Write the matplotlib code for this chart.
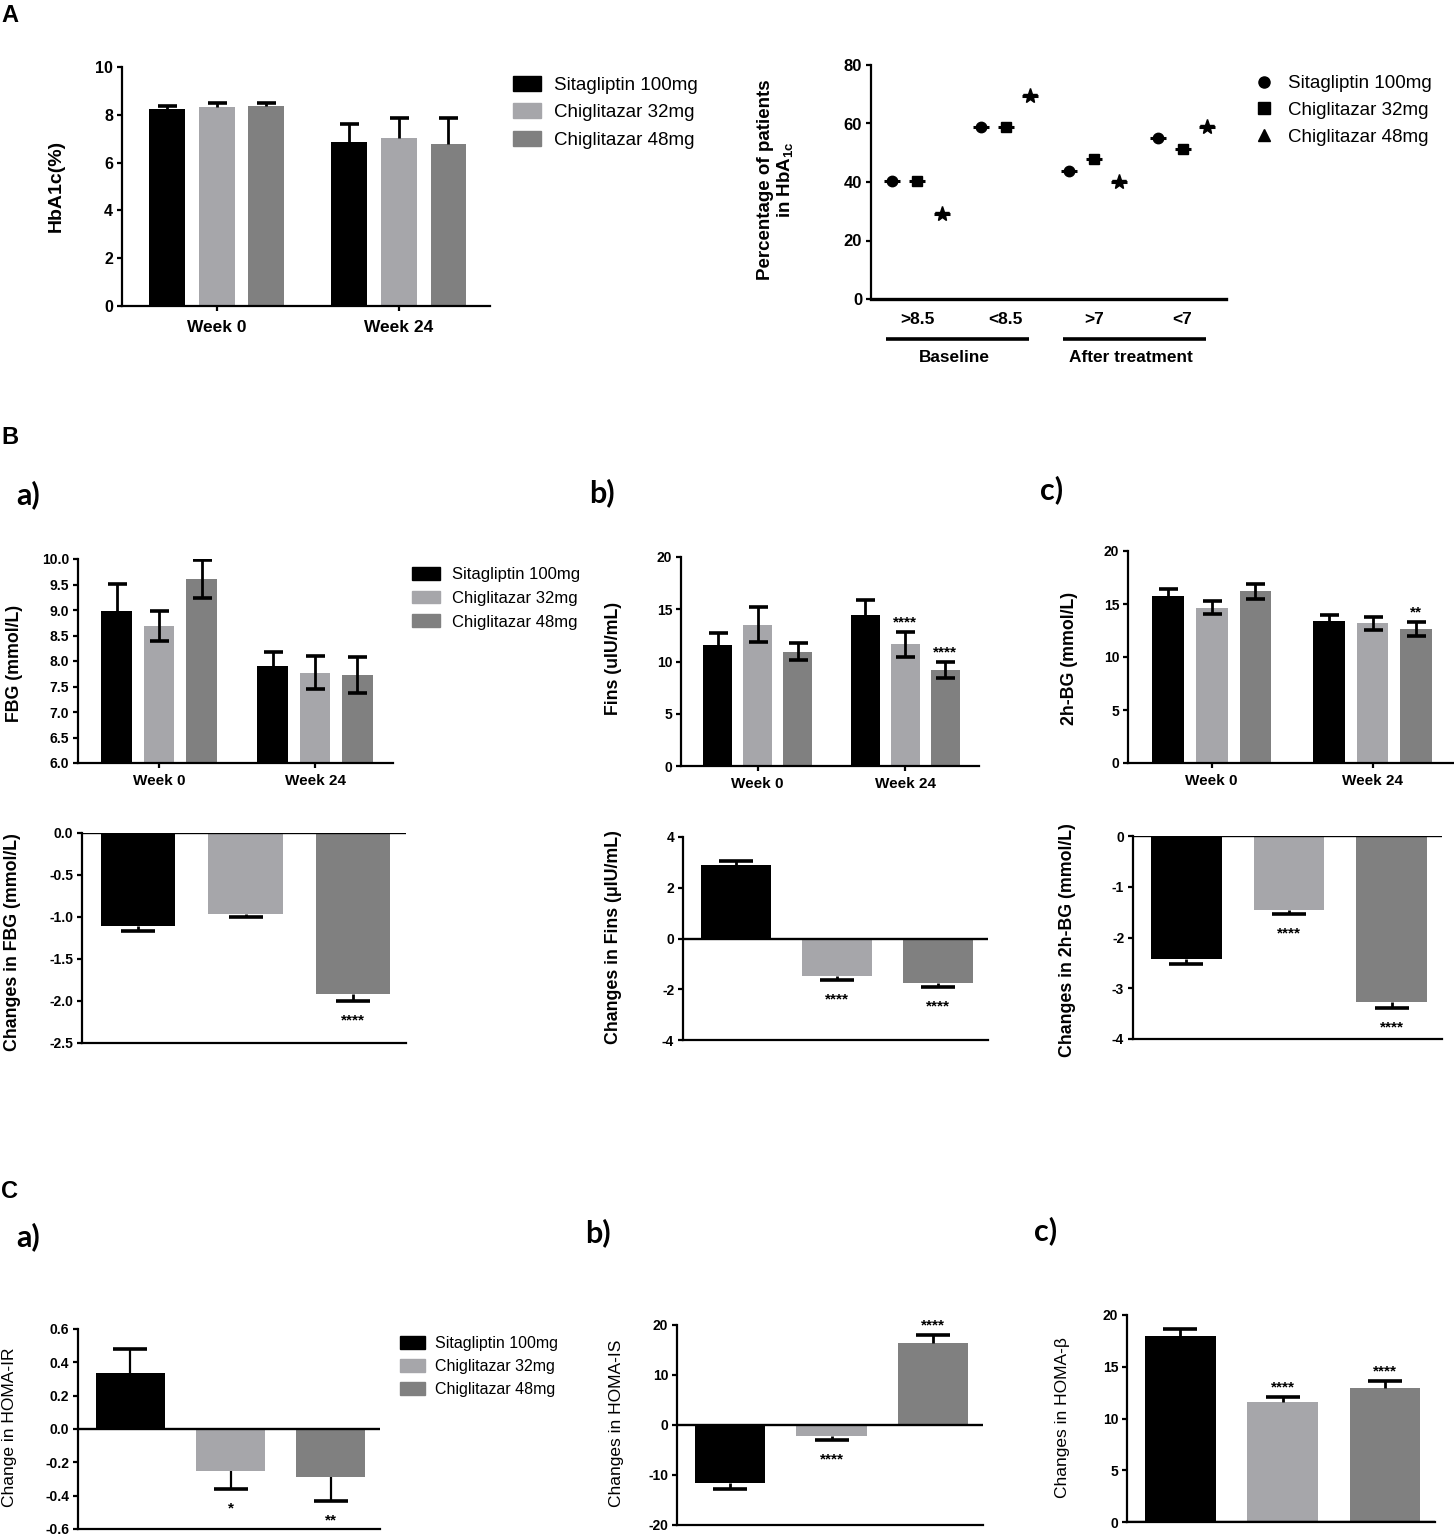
import matplotlib
matplotlib.use("Agg")
import matplotlib.pyplot as plt
import matplotlib.transforms as mtransforms
from matplotlib.patches import Patch
from matplotlib.lines import Line2D
import numpy as np

plt.rcParams["font.family"] = ["Liberation Sans", "DejaVu Sans"]
plt.rcParams["axes.unicode_minus"] = False
plt.rcParams["mathtext.fontset"] = "custom"
plt.rcParams["mathtext.rm"] = "Liberation Sans:bold"
plt.rcParams["mathtext.default"] = "rm"

# ---- data ----
treatments = ["Sitagliptin 100mg", "Chiglitazar 32mg", "Chiglitazar 48mg"]
colors = ["#000000", "#a6a6aa", "#808080"]
weeks = ["Week 0", "Week 24"]

# A left: HbA1c, rows = treatment, cols = week 0 / week 24
hba1c_mean = [[8.24, 6.88], [8.33, 7.04], [8.37, 6.77]]
hba1c_sem = [[0.13, 0.75], [0.15, 0.84], [0.11, 1.11]]

# A right: % of patients per HbA1c category
hba1c_cats = [">8.5", "<8.5", ">7", "<7"]
pct_sita = [40.3, 58.8, 43.9, 54.9]
pct_chig32 = [40.3, 58.8, 47.8, 51.3]
pct_chig48 = [29.1, 69.5, 40.0, 58.7]

# B a) FBG
fbg_mean = [[8.98, 7.91], [8.69, 7.77], [9.61, 7.72]]
fbg_sem = [[0.53, 0.27], [0.29, 0.32], [0.38, 0.35]]
fbg_change = [-1.11, -0.96, -1.92]
fbg_change_sem = [0.06, 0.04, 0.08]
fbg_change_sig = ["", "", "****"]

# B b) fasting insulin
fins_mean = [[11.62, 14.49], [13.53, 11.65], [10.95, 9.20]]
fins_sem = [[1.11, 1.43], [1.70, 1.20], [0.85, 0.78]]
fins_sig = [["", ""], ["", "****"], ["", "****"]]
fins_change = [2.90, -1.48, -1.77]
fins_change_sem = [0.15, 0.14, 0.15]
fins_change_sig = ["", "****", "****"]

# B c) 2h blood glucose
bg2h_mean = [[15.74, 13.36], [14.64, 13.17], [16.21, 12.66]]
bg2h_sem = [[0.66, 0.56], [0.60, 0.64], [0.72, 0.66]]
bg2h_sig = [["", ""], ["", ""], ["", "**"]]
bg2h_change = [-2.42, -1.46, -3.28]
bg2h_change_sem = [0.10, 0.08, 0.10]
bg2h_change_sig = ["", "****", "****"]

# C) HOMA indices
homa_ir = [0.338, -0.25, -0.29]
homa_ir_sem = [0.142, 0.11, 0.144]
homa_ir_sig = ["", "*", "**"]
homa_is = [-11.67, -2.2, 16.47]
homa_is_sem = [1.03, 0.8, 1.63]
homa_is_sig = ["", "****", "****"]
homa_b = [17.97, 11.57, 12.95]
homa_b_sem = [0.70, 0.51, 0.71]
homa_b_sig = ["", "****", "****"]

W, H = 1454, 1535
fig = plt.figure(figsize=(W / 100, H / 100), dpi=100)


def axes_px(x0, y0, x1, y1):
    # pixel box of the plotting area -> figure fraction
    return fig.add_axes([x0 / W, 1 - y1 / H, (x1 - x0) / W, (y1 - y0) / H])


def style(ax, yticks, ylabels, fs=10):
    for s in ["top", "right"]:
        ax.spines[s].set_visible(False)
    for s in ["left", "bottom"]:
        ax.spines[s].set_linewidth(1.6)
    ax.tick_params(direction="out", width=1.6, length=3.8, pad=2.5)
    ax.set_yticks(yticks, ylabels, fontweight="bold", fontsize=fs)
    ax.patch.set_alpha(0)


def err_bar(ax, x, lo, hi, caps, cap_px, lw=2.0):
    # GraphPad style: stem plus a cap only where asked
    ax.vlines(x, lo, hi, color="black", lw=lw, zorder=3)
    for y in caps:
        ax.plot([x], [y], ls="none", marker="_", ms=cap_px * 0.72, mew=2.6,
                color="black", zorder=3)


def star(ax, x, y, up, text):
    # asterisk glyphs sit high in the text box, hence the uneven offsets
    dy = 6.7 if up else -14.0
    ax.annotate(text, (x, y), xytext=(0, dy), textcoords="offset points",
                ha="center", va="center", fontsize=11, fontweight="bold")


def grouped_bars(ax, means, sems, ylim, yticks, ylabels, sig=None,
                 upper_only=False, tfs=10, wfs=11):
    g = np.arange(len(weeks))
    for i in range(3):
        x = g + (i - 1) * 0.272
        m = np.array(means[i])
        s = np.array(sems[i])
        ax.bar(x, m, width=0.197, color=colors[i], zorder=2)
        for xi, mi, si in zip(x, m, s):
            if upper_only:
                err_bar(ax, xi, mi, mi + si, [mi + si], 19)
            else:
                err_bar(ax, xi, mi - si, mi + si, [mi - si, mi + si], 19)
        if sig:
            for xi, top, t in zip(x, m + s, sig[i]):
                if t:
                    star(ax, xi, top, True, t)
    ax.set_xlim(-0.52, 1.50)
    ax.set_ylim(*ylim)
    style(ax, yticks, ylabels, fs=tfs)
    ax.set_xticks(g, weeks, fontweight="bold", fontsize=wfs)
    ax.tick_params(axis="x", pad=4)


def change_bars(ax, vals, sems, sig, ylim, yticks, ylabels, elw=2.0):
    x = np.arange(3)
    ax.bar(x, vals, width=0.69, color=colors, zorder=2)
    for xi, v, s in zip(x, vals, sems):
        end = v + np.sign(v) * s
        err_bar(ax, xi, v, end, [end], 34, lw=elw)
    ax.axhline(0, color="black", lw=1.7, zorder=4)
    for xi, v, s, t in zip(x, vals, sems, sig):
        if t:
            star(ax, xi, v + np.sign(v) * s, v > 0, t)
    ax.set_xlim(-0.52, 2.49)
    ax.set_ylim(*ylim)
    style(ax, yticks, ylabels)
    ax.set_xticks([])


def bar_legend(x, y_first, fs, hl, hh, gap, spacing):
    fs_px = fs * 100 / 72
    handles = [Patch(color=c) for c in colors]
    fig.legend(handles, treatments, loc="upper left",
               bbox_to_anchor=(x / W, 1 - (y_first - 0.6 * fs_px + 4) / H),
               frameon=False, fontsize=fs, handlelength=hl, handleheight=hh,
               handletextpad=gap, labelspacing=spacing, borderpad=0,
               borderaxespad=0)


def ylab(x, y, text, fs=12.8, weight="bold"):
    fig.text(x / W, 1 - y / H, text, rotation=90, ha="center", va="center",
             fontsize=fs, fontweight=weight)


def fmt1(vals):
    return [f"{v:.1f}" for v in vals]


def fmt0(vals):
    return [f"{v:g}" for v in vals]


# ---- A left: HbA1c bars ----
ax = axes_px(122, 67, 490, 306)
t = [0, 2, 4, 6, 8, 10]
grouped_bars(ax, hba1c_mean, hba1c_sem, (0, 10), t, fmt0(t), upper_only=True,
             tfs=11.5, wfs=12.5)
ax.tick_params(axis="x", pad=6)
ylab(56, 186, "HbA1c(%)", fs=14)
bar_legend(513, 83, 13.5, 1.5, 0.85, 0.69, 0.51)

# ---- A right: % patients ----
axr = axes_px(871, 65, 1226, 299)
g = np.arange(len(hba1c_cats))
for i, (vals, mk, ms) in enumerate(zip([pct_sita, pct_chig32, pct_chig48],
                                      ["o", "s", "*"], [7.5, 7, 11])):
    xs = g + (i - 1) * 0.28
    axr.plot(xs, vals, ls="none", marker="_", ms=12, mew=2.2, color="black")
    axr.plot(xs, vals, ls="none", marker=mk, ms=ms, color="black")
axr.set_xlim(-0.52, 3.49)
t = [0, 20, 40, 60, 80]
style(axr, t, fmt0(t), fs=12)
axr.spines["bottom"].set_linewidth(2.4)
axr.set_xticks(g, hba1c_cats, fontweight="bold", fontsize=12.5)
axr.tick_params(axis="x", length=0, pad=9)
axr.set_ylim(0, 80)
trans = mtransforms.blended_transform_factory(axr.transData, axr.transAxes)
for (a, b), name in zip([(0, 1), (2, 3)], ["Baseline", "After treatment"]):
    axr.plot([a - 0.35, b + 0.26], [-0.171, -0.171], transform=trans,
             color="black", lw=2.6, clip_on=False, solid_capstyle="butt")
    axr.text((a + b) / 2 - 0.08, -0.252, name, transform=trans, ha="center",
             va="center", fontsize=12.4, fontweight="bold")
fig.text(776 / W, 1 - 180 / H, "Percentage of patients\nin HbA$_{1c}$",
         rotation=90, ha="center", va="center", fontsize=13.5,
         fontweight="bold", linespacing=1.1)
mk_handles = [Line2D([], [], ls="none", marker=m, ms=8, color="black")
              for m in ["o", "s", "^"]]
fig.legend(mk_handles, treatments, loc="upper left",
           bbox_to_anchor=(1255 / W, 1 - (82 - 7) / H), frameon=False,
           fontsize=13.5, handlelength=1.0, handletextpad=0.75,
           labelspacing=0.51, borderpad=0, borderaxespad=0)

# ---- B a) FBG ----
ax = axes_px(78, 559, 393, 763)
t = [6.0, 6.5, 7.0, 7.5, 8.0, 8.5, 9.0, 9.5, 10.0]
grouped_bars(ax, fbg_mean, fbg_sem, (6, 10), t, fmt1(t))
ylab(15, 663, "FBG (mmol/L)")
bar_legend(412, 573, 12, 1.68, 0.8, 0.72, 0.51)

ax = axes_px(82, 833, 406, 1043)
t = [-2.5, -2.0, -1.5, -1.0, -0.5, 0.0]
change_bars(ax, fbg_change, fbg_change_sem, fbg_change_sig, (-2.5, 0), t, fmt1(t))
ylab(13, 942, "Changes in FBG (mmol/L)")

# ---- B b) Fins ----
ax = axes_px(681, 557, 979, 766)
t = [0, 5, 10, 15, 20]
grouped_bars(ax, fins_mean, fins_sem, (0, 20), t, fmt0(t), sig=fins_sig)
ylab(613, 658, "Fins (uIU/mL)")

ax = axes_px(683, 837, 988, 1040)
t = [-4, -2, 0, 2, 4]
change_bars(ax, fins_change, fins_change_sem, fins_change_sig, (-4, 4), t, fmt0(t))
ylab(613, 937, "Changes in Fins (\u03bcIU/mL)")

# ---- B c) 2h-BG ----
ax = axes_px(1128, 551, 1453, 763)
t = [0, 5, 10, 15, 20]
grouped_bars(ax, bg2h_mean, bg2h_sem, (0, 20), t, fmt0(t), sig=bg2h_sig)
ylab(1070, 658, "2h-BG (mmol/L)")

ax = axes_px(1133, 836, 1442, 1039)
t = [-4, -3, -2, -1, 0]
change_bars(ax, bg2h_change, bg2h_change_sem, bg2h_change_sig, (-4, 0), t, fmt0(t))
ylab(1067, 940, "Changes in 2h-BG (mmol/L)")

# ---- C) HOMA ----
ax = axes_px(78, 1329, 380, 1529)
t = [-0.6, -0.4, -0.2, 0.0, 0.2, 0.4, 0.6]
change_bars(ax, homa_ir, homa_ir_sem, homa_ir_sig, (-0.6, 0.6), t, fmt1(t), elw=1.6)
ylab(10, 1427, "Change in HOMA-IR", fs=12.5, weight="normal")
bar_legend(400, 1342, 11.5, 1.56, 0.86, 0.63, 0.49)

ax = axes_px(677, 1325, 983, 1525)
t = [-20, -10, 0, 10, 20]
change_bars(ax, homa_is, homa_is_sem, homa_is_sig, (-20, 20), t, fmt0(t))
ylab(617, 1423, "Changes in HOMA-IS", fs=12.5, weight="normal")

ax = axes_px(1127, 1315, 1435, 1522)
t = [0, 5, 10, 15, 20]
change_bars(ax, homa_b, homa_b_sem, homa_b_sig, (0, 20), t, fmt0(t))
ylab(1063, 1418, "Changes in HOMA-\u03b2", fs=12.5, weight="normal")

# ---- panel letters ----
for x, y, s in [(10, 16, "A"), (10, 437, "B"), (10, 1191, "C")]:
    fig.text(x / W, 1 - y / H, s, ha="center", va="center", fontsize=17,
             fontweight="bold")
for x, y, s in [(28, 495, "a)"), (602, 493, "b)"), (1052, 490, "c)"),
                (28, 1237, "a)"), (598, 1233, "b)"), (1046, 1231, "c)")]:
    fig.text(x / W, 1 - y / H, s, ha="center", va="center", fontsize=22,
             fontweight="bold", family=["Lato", "DejaVu Sans"])

fig.savefig("out.png", dpi=100)
